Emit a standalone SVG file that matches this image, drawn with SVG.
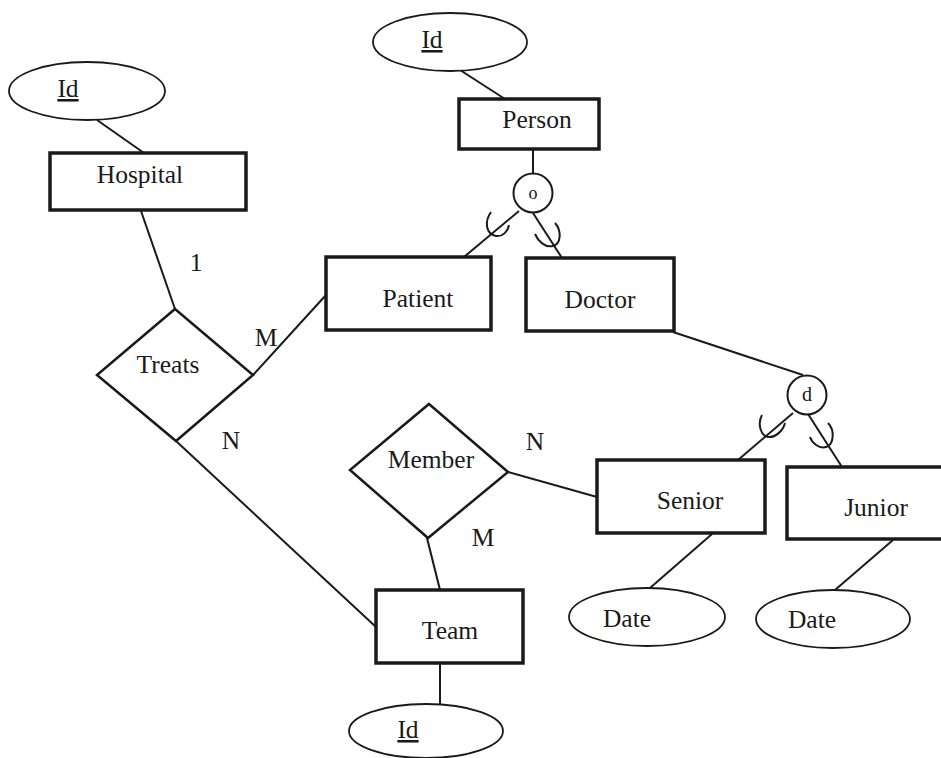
<svg xmlns="http://www.w3.org/2000/svg" width="941" height="758" viewBox="0 0 941 758">
<style>
text{font-family:"Liberation Serif","Times New Roman",serif;font-size:25.5px;fill:#1a1a1a}
.ent{fill:#fff;stroke:#1a1a1a;stroke-width:3.5}
.rel{fill:#fff;stroke:#1a1a1a;stroke-width:2.5}
.att{fill:#fff;stroke:#1a1a1a;stroke-width:1.8}
.gen{fill:#fff;stroke:#1a1a1a;stroke-width:2}
.ln{stroke:#1a1a1a;stroke-width:2;fill:none}
.sub{stroke:#1a1a1a;stroke-width:2;fill:none}
.c{text-anchor:middle}
</style>
<g id="connectors">
<line class="ln" x1="97" y1="120" x2="144" y2="153"/>
<line class="ln" x1="141" y1="211" x2="175" y2="309"/>
<line class="ln" x1="253" y1="375" x2="326" y2="295"/>
<line class="ln" x1="176" y1="441" x2="376" y2="627"/>
<line class="ln" x1="460" y1="70" x2="505" y2="99"/>
<line class="ln" x1="533" y1="150" x2="533" y2="173"/>
<line class="ln" x1="519" y1="211" x2="464" y2="257"/>
<line class="ln" x1="533" y1="213" x2="562" y2="258"/>
<line class="ln" x1="673" y1="332" x2="803" y2="375"/>
<line class="ln" x1="793" y1="413" x2="738" y2="460"/>
<line class="ln" x1="808" y1="414" x2="842" y2="467"/>
<line class="ln" x1="508" y1="472" x2="597" y2="497"/>
<line class="ln" x1="427" y1="538" x2="440" y2="590"/>
<line class="ln" x1="440" y1="663" x2="440" y2="704"/>
<line class="ln" x1="712" y1="534" x2="650" y2="588"/>
<line class="ln" x1="893" y1="540" x2="835" y2="590"/>
<path class="sub" d="M491,212 C484,222 486,234 496,236 C503,237 508,231 509,225"/>
<path class="sub" d="M555,223 C562,231 561,244 553,246 C545,248 538,241 535,234"/>
<path class="sub" d="M762,415 C757,424 761,436 768,437 C775,438 783,431 785,423"/>
<path class="sub" d="M828,423 C835,430 834,445 826,447 C819,449 812,443 810,437"/>
<text x="196" y="271" class="c">1</text>
<text x="266" y="346" class="c">M</text>
<text x="231" y="449" class="c">N</text>
<text x="535" y="450" class="c">N</text>
<text x="483" y="546" class="c">M</text>
</g>
<g id="hospital-id">
<ellipse class="att" cx="87" cy="91" rx="78" ry="29"/>
<text x="68" y="97" class="c" text-decoration="underline">Id</text>
</g>
<g id="hospital">
<rect class="ent" x="50" y="153" width="196" height="57"/>
<text x="140" y="183" class="c">Hospital</text>
</g>
<g id="treats">
<polygon class="rel" points="175,309 253,375 176,441 97,375"/>
<text x="168" y="373" class="c">Treats</text>
</g>
<g id="person-id">
<ellipse class="att" cx="450" cy="42" rx="77" ry="29"/>
<text x="432" y="48" class="c" text-decoration="underline">Id</text>
</g>
<g id="person">
<rect class="ent" x="459" y="99" width="140" height="50"/>
<text x="537" y="128" class="c">Person</text>
</g>
<g id="overlap">
<circle class="gen" cx="533" cy="193" r="19.5"/>
<text x="533" y="199" class="c" style="font-size:18px">o</text>
</g>
<g id="patient">
<rect class="ent" x="326" y="257" width="165" height="73"/>
<text x="418" y="307" class="c">Patient</text>
</g>
<g id="doctor">
<rect class="ent" x="526" y="258" width="148" height="73"/>
<text x="600" y="308" class="c">Doctor</text>
</g>
<g id="disjoint">
<circle class="gen" cx="807" cy="395" r="19.5"/>
<text x="807" y="401" class="c" style="font-size:20px">d</text>
</g>
<g id="member">
<polygon class="rel" points="429,404 508,472 428,538 350,470"/>
<text x="431" y="468" class="c">Member</text>
</g>
<g id="senior">
<rect class="ent" x="597" y="460" width="168" height="73"/>
<text x="690" y="509" class="c">Senior</text>
</g>
<g id="junior">
<rect class="ent" x="787" y="467" width="160" height="72"/>
<text x="876" y="516" class="c">Junior</text>
</g>
<g id="senior-date">
<ellipse class="att" cx="647" cy="617" rx="78" ry="29"/>
<text x="627" y="627" class="c">Date</text>
</g>
<g id="junior-date">
<ellipse class="att" cx="833" cy="619" rx="77" ry="29"/>
<text x="812" y="628" class="c">Date</text>
</g>
<g id="team">
<rect class="ent" x="376" y="590" width="147" height="73"/>
<text x="450" y="639" class="c">Team</text>
</g>
<g id="team-id">
<ellipse class="att" cx="426" cy="731" rx="77" ry="27"/>
<text x="408" y="738" class="c" text-decoration="underline">Id</text>
</g>
</svg>
